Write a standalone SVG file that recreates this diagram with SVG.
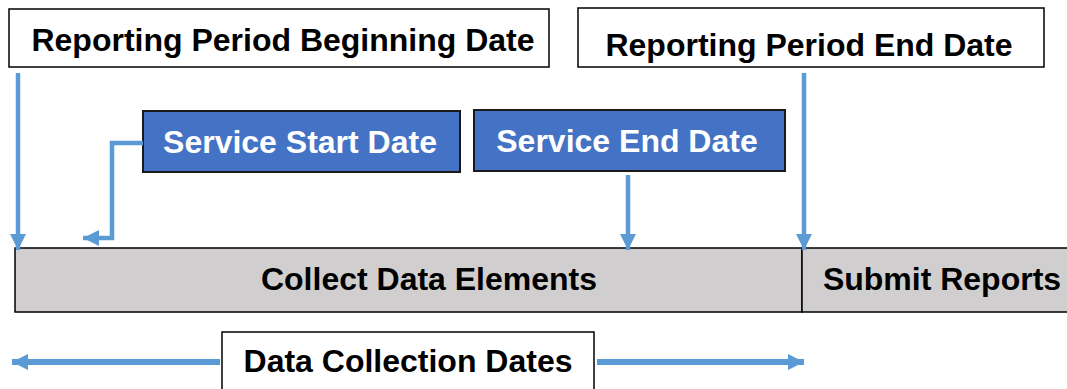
<svg xmlns="http://www.w3.org/2000/svg" width="1067" height="389" viewBox="0 0 1067 389">
  <defs>
    <style>
      .lbl { font-family: "Liberation Sans", Arial, sans-serif; font-weight: bold; font-size: 32px; text-anchor: middle; }
      .dark { fill: #000; }
      .light { fill: #fff; }
      .plain { fill: #fff; stroke: #000; stroke-width: 1.5; }
      .svc { fill: #4472C4; stroke: #1a1a1a; stroke-width: 2; }
      .bar { fill: #D0CECE; stroke: #000; stroke-width: 1.5; }
      .conn { fill: none; stroke: #5B9BD5; stroke-width: 4.5; }
      .conn.wide { stroke-width: 6; }
    </style>
    <marker id="head" viewBox="0 0 10 10" refX="10" refY="5" markerWidth="16" markerHeight="16" markerUnits="userSpaceOnUse" orient="auto-start-reverse">
      <path d="M0,0 L10,5 L0,10 Z" fill="#5B9BD5"/>
    </marker>
  </defs>

  <g id="node-period-begin">
    <rect class="plain" x="9" y="9" width="540" height="58"/>
    <text class="lbl dark" x="283" y="51">Reporting Period Beginning Date</text>
  </g>

  <g id="node-period-end">
    <rect class="plain" x="578" y="8" width="466" height="59"/>
    <text class="lbl dark" x="809" y="56">Reporting Period End Date</text>
  </g>

  <g id="node-service-start">
    <rect class="svc" x="143" y="111" width="317" height="61"/>
    <text class="lbl light" x="300" y="153">Service Start Date</text>
  </g>

  <g id="node-service-end">
    <rect class="svc" x="474" y="110" width="311" height="61"/>
    <text class="lbl light" x="627" y="152">Service End Date</text>
  </g>

  <g id="node-collect">
    <rect class="bar" x="15" y="248" width="787" height="64"/>
    <text class="lbl dark" x="429" y="290">Collect Data Elements</text>
  </g>

  <g id="node-submit">
    <rect class="bar" x="802" y="248" width="270" height="64"/>
    <text class="lbl dark" x="942" y="290">Submit Reports</text>
  </g>

  <g id="node-collection-dates">
    <rect class="plain" x="222" y="332" width="372" height="62"/>
    <text class="lbl dark" x="408" y="372">Data Collection Dates</text>
  </g>

  <g id="connectors">
    <path class="conn" d="M18,73 V250" marker-end="url(#head)"/>
    <path class="conn" d="M143,143 H112 V238 H83" marker-end="url(#head)"/>
    <path class="conn" d="M628,175 V250" marker-end="url(#head)"/>
    <path class="conn" d="M804,73 V250" marker-end="url(#head)"/>
    <path class="conn wide" d="M220,362 H12" marker-end="url(#head)"/>
    <path class="conn wide" d="M597,362 H804" marker-end="url(#head)"/>
  </g>
</svg>
